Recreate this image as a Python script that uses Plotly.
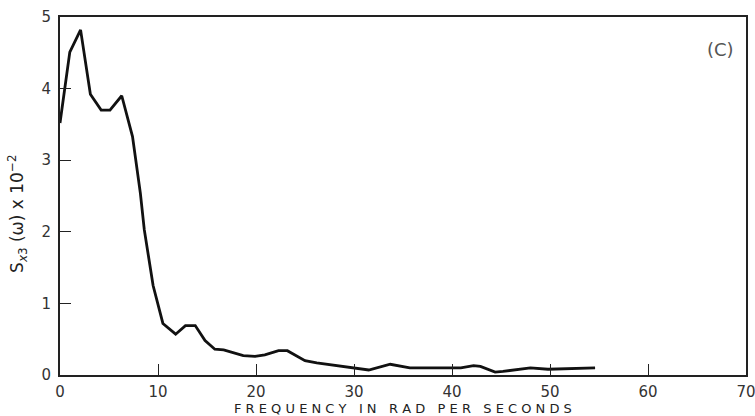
import plotly.graph_objects as go

# Spectral density of x3 versus frequency
freq = [0.0, 1.0, 2.1, 3.1, 4.2, 5.1, 6.3, 7.4, 8.2, 8.6, 9.5, 10.5, 11.8, 12.8, 13.8,
        14.8, 15.8, 16.7, 18.7, 19.9, 20.9, 22.3, 23.2, 25.0, 26.2, 29.9, 31.5,
        33.7, 35.7, 40.9, 42.2, 42.9, 43.9, 44.4, 45.2, 48.0, 49.8, 54.6]
density = [3.52, 4.51, 4.82, 3.92, 3.70, 3.70, 3.90, 3.33, 2.54, 2.03, 1.25, 0.72, 0.57,
           0.69, 0.69, 0.48, 0.36, 0.35, 0.27, 0.26, 0.28, 0.34, 0.34, 0.20, 0.17,
           0.10, 0.07, 0.15, 0.10, 0.10, 0.13, 0.12, 0.07, 0.04, 0.05, 0.10, 0.08, 0.10]

x_ticks = [0, 10, 20, 30, 40, 50, 60, 70]
y_ticks = [0, 1, 2, 3, 4, 5]

font_family = "DejaVu Sans, Liberation Sans, sans-serif"

fig = go.Figure()
fig.add_trace(go.Scatter(
    x=freq, y=density, mode="lines",
    line=dict(color="#111111", width=2.8),
    showlegend=False, hoverinfo="skip",
))

axis_common = dict(
    showgrid=False, zeroline=False,
    showline=True, linecolor="#222222", linewidth=2, mirror=True,
    ticks="inside", ticklen=11, tickwidth=1.4, tickcolor="#222222",
    tickfont=dict(family=font_family, size=15, color="#333333"),
    ticklabeloverflow="allow",
)

fig.update_xaxes(range=[0, 70], tickvals=x_ticks, ticktext=[str(v) for v in x_ticks],
                 ticklabelstandoff=2, **axis_common)
fig.update_yaxes(range=[0, 5], tickvals=y_ticks, ticktext=[str(v) for v in y_ticks],
                 ticklabelstandoff=4, **axis_common)

fig.add_annotation(
    text="F R E Q U E N C Y &nbsp; I N &nbsp; R A D &nbsp; P E R &nbsp; S E C O N D S",
    xref="paper", yref="paper", x=0.5, y=0, yshift=-33,
    showarrow=False, yanchor="middle",
    font=dict(family=font_family, size=13, color="#222222"),
)
fig.add_annotation(
    text="S<sub><i>x</i>3</sub> (ω) x 10<sup>−2</sup>",
    xref="paper", yref="paper", x=0, y=0.45, xshift=-42,
    showarrow=False, textangle=-90, xanchor="center", yanchor="middle",
    font=dict(family=font_family, size=17, color="#222222"),
)
fig.add_annotation(
    text="(C)",
    xref="x", yref="y", x=67.4, y=4.55,
    showarrow=False,
    font=dict(family=font_family, size=18, color="#555555"),
)

fig.update_layout(
    width=755, height=416,
    margin=dict(l=60, r=9, t=17, b=41, autoexpand=False),
    paper_bgcolor="white", plot_bgcolor="white",
)

fig.write_html("out.html")
